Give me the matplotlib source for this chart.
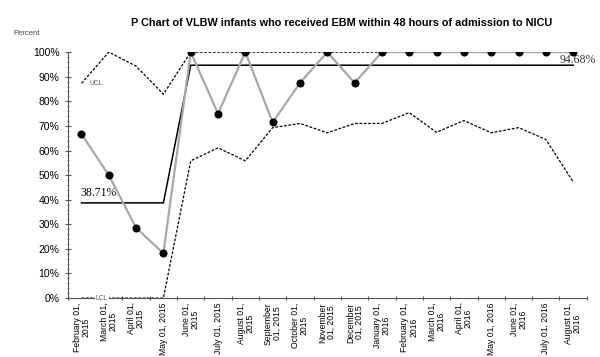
import matplotlib
matplotlib.use("Agg")
import matplotlib.pyplot as plt
from matplotlib.ticker import MultipleLocator, PercentFormatter

plt.rcParams['font.family'] = ['Liberation Sans', 'DejaVu Sans']

# Monate (Kategorien)
months = ["February 01,\n2015", "March 01,\n2015", "April 01,\n2015", "May 01, 2015",
          "June 01,\n2015", "July 01, 2015", "August 01,\n2015", "September\n01, 2015",
          "October 01,\n2015", "November\n01, 2015", "December\n01, 2015", "January 01,\n2016",
          "February 01,\n2016", "March 01,\n2016", "April 01,\n2016", "May 01, 2016",
          "June 01,\n2016", "July 01, 2016", "August 01,\n2016"]

# Anteil in Prozent
proportion = [66.67, 50.0, 28.57, 18.18, 100, 75.0, 100, 71.43, 87.5, 100, 87.5, 100,
              100, 100, 100, 100, 100, 100, 100]
center = [38.71] * 4 + [94.68] * 15
ucl = [87.3, 100, 94.3, 82.9, 100, 100, 100, 100, 100, 100, 100, 100,
       100, 100, 100, 100, 100, 100, 100]
lcl = [0, 0, 0, 0, 55.8, 61.1, 55.8, 69.3, 71.0, 67.2, 71.0, 71.0,
       75.4, 67.4, 72.2, 67.2, 69.3, 64.5, 47.3]

fig = plt.figure(figsize=(6, 3.57), dpi=100)
ax = fig.add_axes([0.113, 0.165, 0.865, 0.689])

x = list(range(len(months)))

# Kontrollgrenzen
ax.plot(x, ucl, color="black", linestyle=(0, (2.2, 1.3)), linewidth=0.9)
ax.plot(x, lcl, color="black", linestyle=(0, (2.2, 1.3)), linewidth=0.9)
# Mittellinie
ax.plot(x, center, color="black", linewidth=1.1)
# Messwerte
ax.plot(x, proportion, color="#a8a8a8", linewidth=1.6, zorder=3)
ax.plot(x, proportion, "o", color="black", markersize=4.8, zorder=4)

# Beschriftungen
ax.text(0.3, 87.3, "UCL", fontsize=4.8, color="#555555", va="center")
ax.text(0.75, 0, "LCL", fontsize=4.8, color="#555555", va="center", ha="center",
        bbox=dict(facecolor="white", edgecolor="none", pad=0.6), zorder=5)
ax.text(-0.05, 40.3, "38.71%", fontsize=8.5, family="Liberation Serif", va="bottom")
ax.text(17.5, 96.6, "94.68%", fontsize=8.5, family="Liberation Serif", color="#333333",
        va="center")

ax.set_xlim(-0.5, 18.5)
ax.set_ylim(0, 100)
ax.set_xticks([i - 0.5 for i in range(len(months) + 1)])
ax.set_xticklabels([])
ax.set_xticks(x, minor=True)
ax.set_xticklabels(months, minor=True, rotation=90, fontsize=6.2, linespacing=0.95,
                   va="top", ha="center")
ax.tick_params(axis="x", which="minor", length=0, pad=3)
ax.tick_params(axis="x", which="major", length=3, direction="inout", color="#555555")

ax.yaxis.set_major_locator(MultipleLocator(10))
ax.yaxis.set_minor_locator(MultipleLocator(2))
ax.yaxis.set_major_formatter(PercentFormatter(decimals=0))
ax.tick_params(axis="y", which="major", length=5, direction="inout", labelsize=7.5,
               color="#555555")
ax.tick_params(axis="y", which="minor", length=2, direction="inout", color="#777777")

for side in ["top", "right"]:
    ax.spines[side].set_visible(False)
for side in ["left", "bottom"]:
    ax.spines[side].set_color("#555555")
    ax.spines[side].set_linewidth(0.8)

fig.text(0.569, 0.935, "P Chart of VLBW infants who received EBM within 48 hours of admission to NICU",
         ha="center", va="center", fontsize=7.8, fontweight="bold")
fig.text(0.022, 0.905, "Percent", fontsize=5.5, color="#444444", va="center")

fig.savefig("out.png", dpi=100)
